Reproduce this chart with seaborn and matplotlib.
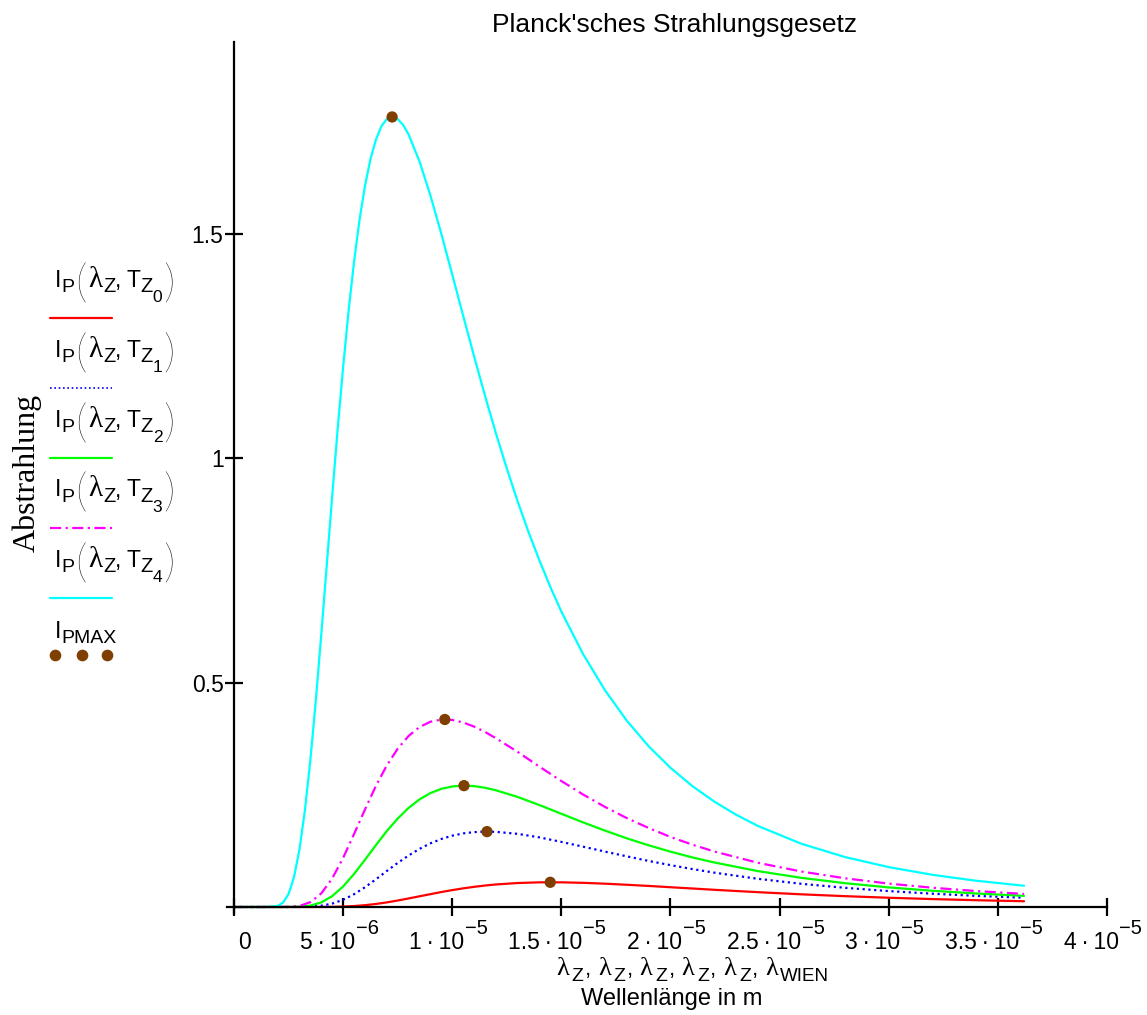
import numpy as np
import matplotlib
matplotlib.use("Agg")
import matplotlib.pyplot as plt
import seaborn as sns
from matplotlib.lines import Line2D

# ---------------- data ----------------
# wavelength grids in micrometres
lam_common = [0, 1, 2, 2.5, 3, 3.5, 4, 4.5, 5, 5.5, 6, 6.5, 7, 7.5, 8, 8.5, 9, 9.5,
              10, 10.5, 11, 11.5, 12, 13, 14, 15, 16, 17, 18, 19, 20, 21, 22, 24, 26,
              28, 30, 32, 34, 36.2]
lam_cyan = [0, 1, 1.5, 2, 2.25, 2.5, 2.75, 3, 3.25, 3.5, 3.75, 4, 4.25, 4.5, 4.75, 5,
            5.25, 5.5, 5.75, 6, 6.25, 6.5, 6.75, 7, 7.25, 7.5, 7.75, 8, 8.5, 9, 9.5, 10,
            10.5, 11, 11.5, 12, 12.5, 13, 13.5, 14, 14.5, 15, 16, 17, 18, 19, 20, 21, 22,
            23, 24, 26, 28, 30, 32, 34, 36.2]

I_T0 = [0, 0, 0, 0, 0, 0, 0.0001, 0.0003, 0.0009, 0.0021, 0.0040, 0.0067, 0.0102, 0.0144,
        0.0190, 0.0238, 0.0286, 0.0333, 0.0376, 0.0415, 0.0449, 0.0478, 0.0502, 0.0534,
        0.0549, 0.0549, 0.0538, 0.0519, 0.0495, 0.0469, 0.0440, 0.0412, 0.0383, 0.0330,
        0.0282, 0.0241, 0.0206, 0.0176, 0.0151, 0.0128]
I_T1 = [0, 0, 0, 0, 0.0001, 0.0007, 0.0028, 0.0076, 0.0160, 0.0284, 0.0439, 0.0615, 0.0801,
        0.0981, 0.1147, 0.1294, 0.1418, 0.1515, 0.1588, 0.1639, 0.1668, 0.1679, 0.1674,
        0.1629, 0.1550, 0.1450, 0.1343, 0.1234, 0.1128, 0.1026, 0.0932, 0.0845, 0.0765,
        0.0628, 0.0516, 0.0427, 0.0354, 0.0296, 0.0248, 0.0206]
I_T2 = [0, 0, 0, 0, 0.0006, 0.0031, 0.0102, 0.0242, 0.0457, 0.0735, 0.1050, 0.1376, 0.1690,
        0.1969, 0.2207, 0.2397, 0.2538, 0.2632, 0.2685, 0.2704, 0.2693, 0.2656, 0.2600,
        0.2451, 0.2269, 0.2076, 0.1884, 0.1701, 0.1529, 0.1374, 0.1232, 0.1105, 0.0992,
        0.0800, 0.0649, 0.0530, 0.0436, 0.0361, 0.0301, 0.0248]
I_T3 = [0, 0, 0, 0.0002, 0.0023, 0.0107, 0.0303, 0.0636, 0.1093, 0.1623, 0.2171, 0.2695,
        0.3151, 0.3526, 0.3810, 0.4008, 0.4127, 0.4175, 0.4167, 0.4111, 0.4019, 0.3900,
        0.3760, 0.3454, 0.3125, 0.2806, 0.2504, 0.2229, 0.1980, 0.1759, 0.1560, 0.1389,
        0.1237, 0.0985, 0.0790, 0.0639, 0.0521, 0.0429, 0.0355, 0.0291]
I_T4 = [0, 0, 0, 0.0024, 0.0099, 0.0289, 0.0663, 0.1277, 0.2152, 0.3277, 0.4603, 0.6073,
        0.7611, 0.9160, 1.0641, 1.2026, 1.3275, 1.4372, 1.5299, 1.6060, 1.6653, 1.7090,
        1.7390, 1.7553, 1.7600, 1.7554, 1.7420, 1.7210, 1.6610, 1.5850, 1.4997, 1.4090,
        1.3172, 1.2270, 1.1391, 1.0554, 0.9770, 0.9030, 0.8347, 0.7715, 0.7124, 0.6580,
        0.5630, 0.4826, 0.4150, 0.3580, 0.3100, 0.2694, 0.2350, 0.2057, 0.1806, 0.1408,
        0.1112, 0.0888, 0.0717, 0.0585, 0.0473]

lam_wien = [14.49, 11.592, 10.538, 9.66, 7.245]     # micrometres
I_pmax = [0.0550, 0.1679, 0.2703, 0.4177, 1.7600]

x_ticks = [0, 5e-6, 1e-5, 1.5e-5, 2e-5, 2.5e-5, 3e-5, 3.5e-5, 4e-5]
x_tick_base = ["0", "5\u2009·\u200910", "1\u2009·\u200910", "1.5\u2009·\u200910",
               "2\u2009·\u200910", "2.5\u2009·\u200910", "3\u2009·\u200910",
               "3.5\u2009·\u200910", "4\u2009·\u200910"]
x_tick_exp = ["", "−6", "−5", "−5", "−5", "−5", "−5", "−5", "−5"]
y_ticks = [0.5, 1, 1.5]
y_tick_labels = ["0.5", "1", "1.5"]

colors = ["#FF0000", "#0000FF", "#00FF00", "#FF00FF", "#00FFFF"]
styles = ["-", (0, (1, 1.6)), "-", (0, (5, 2, 1, 2)), "-"]
brown = "#7F3F00"

# ---------------- figure ----------------
sns.set_style("white")
plt.rcParams["font.family"] = ["Liberation Sans", "DejaVu Sans"]
plt.rcParams.update({"text.color": "black", "axes.labelcolor": "black",
                     "xtick.color": "black", "ytick.color": "black",
                     "axes.edgecolor": "black"})
SANS = "Liberation Sans"
SERIF = "Liberation Serif"

W, H = 1147, 1015
fig = plt.figure(figsize=(W / 100, H / 100), dpi=100)
ax = fig.add_axes([227 / W, 1 - 913 / H, 880 / W, 871 / H])

series = [(lam_common, I_T0), (lam_common, I_T1), (lam_common, I_T2),
          (lam_common, I_T3), (lam_cyan, I_T4)]
for (lam, vals), c, ls in zip(series, colors, styles):
    sns.lineplot(x=np.array(lam) * 1e-6, y=vals, ax=ax, color=c, linestyle=ls,
                 linewidth=1.6, sort=False, estimator=None, legend=False,
                 solid_joinstyle="round")

sns.scatterplot(x=np.array(lam_wien) * 1e-6, y=I_pmax, ax=ax, color=brown, s=66,
                edgecolor="none", linewidth=0, zorder=5, legend=False)

ax.set_xlim(-0.32e-6, 4.0e-5)
ax.set_ylim(-0.0134, 1.927)
ax.set(xlabel="", ylabel="")
ax.spines[["top", "right"]].set_visible(False)
ax.spines["left"].set_position(("data", 0))
ax.spines["bottom"].set_position(("data", 0))
for s in ["left", "bottom"]:
    ax.spines[s].set_linewidth(1.6)
    ax.spines[s].set_color("black")

ax.set_xticks(x_ticks)
ax.set_yticks(y_ticks)
ax.set_yticklabels(y_tick_labels, fontsize=16.5, family=SANS, color="black")
ax.tick_params(axis="both", which="major", direction="inout", length=13, width=1.6,
               color="black", pad=1, bottom=True, left=True)
ax.tick_params(axis="x", labelbottom=False)

# x tick labels: mantissa + raised exponent
for v, b, e in zip(x_ticks, x_tick_base, x_tick_exp):
    dx = 11 if e == "" else -16
    base = ax.annotate(b, xy=(v, 0), xycoords="data", xytext=(dx, -42),
                       textcoords="offset pixels", ha="center", va="baseline",
                       fontsize=16.5, family=SANS, annotation_clip=False)
    if e:
        ax.annotate(e, xy=(1, H - 934), xycoords=(base, "figure pixels"),
                    xytext=(1, 0), textcoords="offset pixels", ha="left",
                    va="baseline", fontsize=14.5, family=SANS, annotation_clip=False)


def rich(x0, y0, pieces):
    """pieces: (text, size, dy_down_px, family, gap_px, weight); baseline at image y0."""
    prev = None
    for s, size, dy, fam, gap, wt in pieces:
        ypix = H - (y0 + dy)
        if prev is None:
            prev = ax.annotate(s, xy=(x0 + gap, ypix), xycoords="figure pixels",
                               ha="left", va="baseline", fontsize=size, family=fam,
                               fontweight=wt, annotation_clip=False)
        else:
            prev = ax.annotate(s, xy=(1, ypix), xycoords=(prev, "figure pixels"),
                               xytext=(gap, 0), textcoords="offset pixels",
                               ha="left", va="baseline", fontsize=size, family=fam,
                               fontweight=wt, annotation_clip=False)
    return prev


PAREN = "Lato"
N = "normal"
# legend (Mathcad style: label above line sample)
line_y = [318, 388, 458, 527.5, 598]
for k, (c, ls, ly) in enumerate(zip(colors, styles, line_y)):
    bl = ly - 31
    rich(55, bl, [("I", 16.5, 0, SANS, 0, N), ("P", 14, 5, SANS, 0, N),
                  ("(", 33, 10, PAREN, 1, "light"), ("λ", 21, 0, SERIF, 1, N),
                  ("Z", 14.5, 5, SANS, 1, N), (",", 16.5, 0, SANS, 0, N),
                  ("T", 16.5, 0, SANS, 5, N), ("Z", 14.5, 5, SANS, 0, N),
                  (str(k), 12.5, 15, SANS, 0, N), (")", 33, 10, PAREN, 1, "light")])
    fig.add_artist(Line2D([50 / W, 112 / W], [1 - ly / H, 1 - ly / H], color=c,
                          linestyle=ls, linewidth=1.6 if k != 1 else 1.2,
                          transform=fig.transFigure))

rich(55, 638, [("I", 16.5, 0, SANS, 0, N), ("PMAX", 14, 5, SANS, 0, N)])
fig.add_artist(Line2D([55 / W, 81.5 / W, 107 / W], [1 - 655 / H] * 3, linestyle="none",
                      marker="o", markersize=8.4, color=brown, markeredgewidth=0,
                      transform=fig.transFigure))

# title and axis labels
fig.text(675 / W, 1 - 32 / H, "Planck'sches Strahlungsgesetz", ha="center",
         va="baseline", fontsize=19, family=SANS)
fig.text(27 / W, 1 - 473 / H, "Abstrahlung", rotation=90, ha="center", va="center",
         fontsize=23, family=SERIF)

xl = []
for i in range(5):
    xl += [("λ", 19, 0, SERIF, 0 if i == 0 else 7, N),
           ("Z", 14, 6, SANS, 3, N), (",", 16, 0, SANS, 1, N)]
xl += [("λ", 19, 0, SERIF, 7, N), ("WIEN", 13.5, 6, SANS, 2, N)]
rich(556, 975, xl)
fig.text(672 / W, 1 - 1005 / H, "Wellenlänge in m", ha="center", va="baseline",
         fontsize=17, family=SANS)

fig.savefig("out.png", dpi=100)
